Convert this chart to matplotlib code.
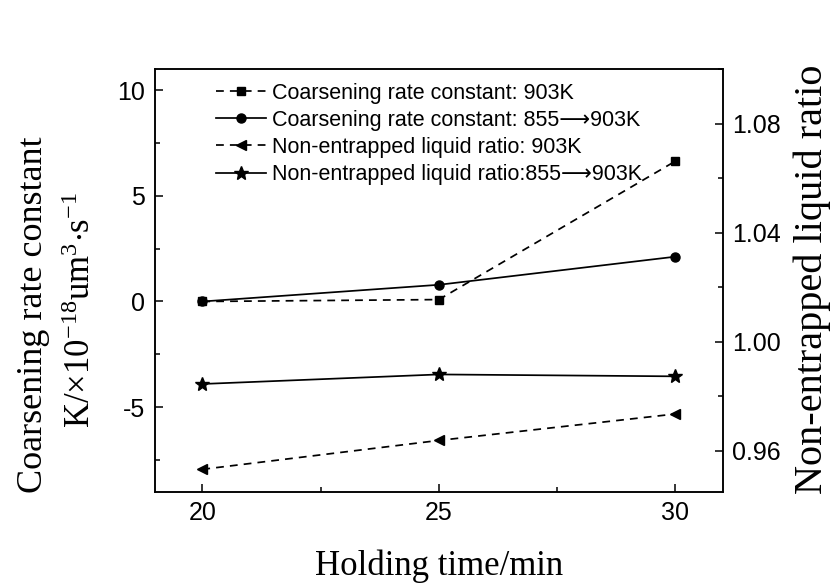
import matplotlib
matplotlib.use("Agg")
import matplotlib.pyplot as plt
from matplotlib.ticker import MultipleLocator, FormatStrFormatter

plt.rcParams['font.family'] = ['Liberation Sans', 'DejaVu Sans']
plt.rcParams['mathtext.default'] = 'regular'
plt.rcParams['axes.unicode_minus'] = False

# holding time (min)
time = [20, 25, 30]
# coarsening rate constant, x1e-18 um^3/s
k_903 = [0.0, 0.09, 6.64]
k_855_903 = [0.0, 0.79, 2.12]
# non-entrapped liquid ratio
ratio_903 = [0.9532, 0.9638, 0.9735]
ratio_855_903 = [0.9845, 0.988, 0.9873]

arrow = '\u27f6'
labels = ['Coarsening rate constant: 903K',
          'Coarsening rate constant: 855' + arrow + '903K',
          'Non-entrapped liquid ratio: 903K',
          'Non-entrapped liquid ratio:855' + arrow + '903K']

fig = plt.figure(figsize=(8.32, 5.84), dpi=100)
ax = fig.add_axes([155/832, 1-491.7/584, 567.7/832, 422.7/584])
ax2 = ax.twinx()

dash = (0, (4.5, 3.5))
lw = 1.25
h1, = ax.plot(time, k_903, ls=dash, lw=lw, color='k', marker='s', ms=6)
h2, = ax.plot(time, k_855_903, ls='-', lw=lw, color='k', marker='o', ms=6.5)
h3, = ax2.plot(time, ratio_903, ls=dash, lw=lw, color='k', marker='<', ms=7.5)
h4, = ax2.plot(time, ratio_855_903, ls='-', lw=lw, color='k', marker='*', ms=10)

ax.set_xlim(19, 31)
ax.set_ylim(-9, 11)
ax2.set_ylim(0.945, 1.10)

ax.xaxis.set_major_locator(MultipleLocator(5))
ax.xaxis.set_minor_locator(MultipleLocator(2.5))
ax.yaxis.set_major_locator(MultipleLocator(5))
ax.yaxis.set_minor_locator(MultipleLocator(2.5))
ax2.yaxis.set_major_locator(MultipleLocator(0.04))
ax2.yaxis.set_minor_locator(MultipleLocator(0.02))
ax2.yaxis.set_major_formatter(FormatStrFormatter('%.2f'))

for a in (ax, ax2):
    a.tick_params(which='major', direction='in', length=6, width=1.1,
                  labelsize=18, pad=7)
    a.tick_params(which='minor', direction='in', length=3.5, width=1.1)
    for s in a.spines.values():
        s.set_linewidth(1.1)
ax.tick_params(which='both', top=False, right=False)
ax2.tick_params(which='both', left=False, right=True)

serif = ['Liberation Serif', 'DejaVu Serif']
fig.text(439/832, 1-575/584, 'Holding time/min', family=serif, fontsize=25,
         ha='center', va='baseline')
fig.text(34/832, 1-314.5/584, 'Coarsening rate constant', family=serif,
         fontsize=26, rotation=90, ha='center', va='center')
fig.text(81.5/832, 1-310/584, r'K/$\times$10$^{-18}$um$^{3}$$\cdot$s$^{-1}$',
         family=serif, fontsize=25, rotation=90, ha='center', va='center')
fig.text(812.5/832, 1-279.5/584, 'Non-entrapped liquid ratio', family=serif,
         fontsize=29, rotation=90, ha='center', va='center')

ax.legend([h1, h2, h3, h4], labels, loc='upper left',
          bbox_to_anchor=(0.1075, 0.968), frameon=False, fontsize=15.5,
          borderpad=0, borderaxespad=0, handlelength=2.3, handletextpad=0.3,
          labelspacing=0.29, numpoints=1)

fig.savefig('out.png', dpi=100)
